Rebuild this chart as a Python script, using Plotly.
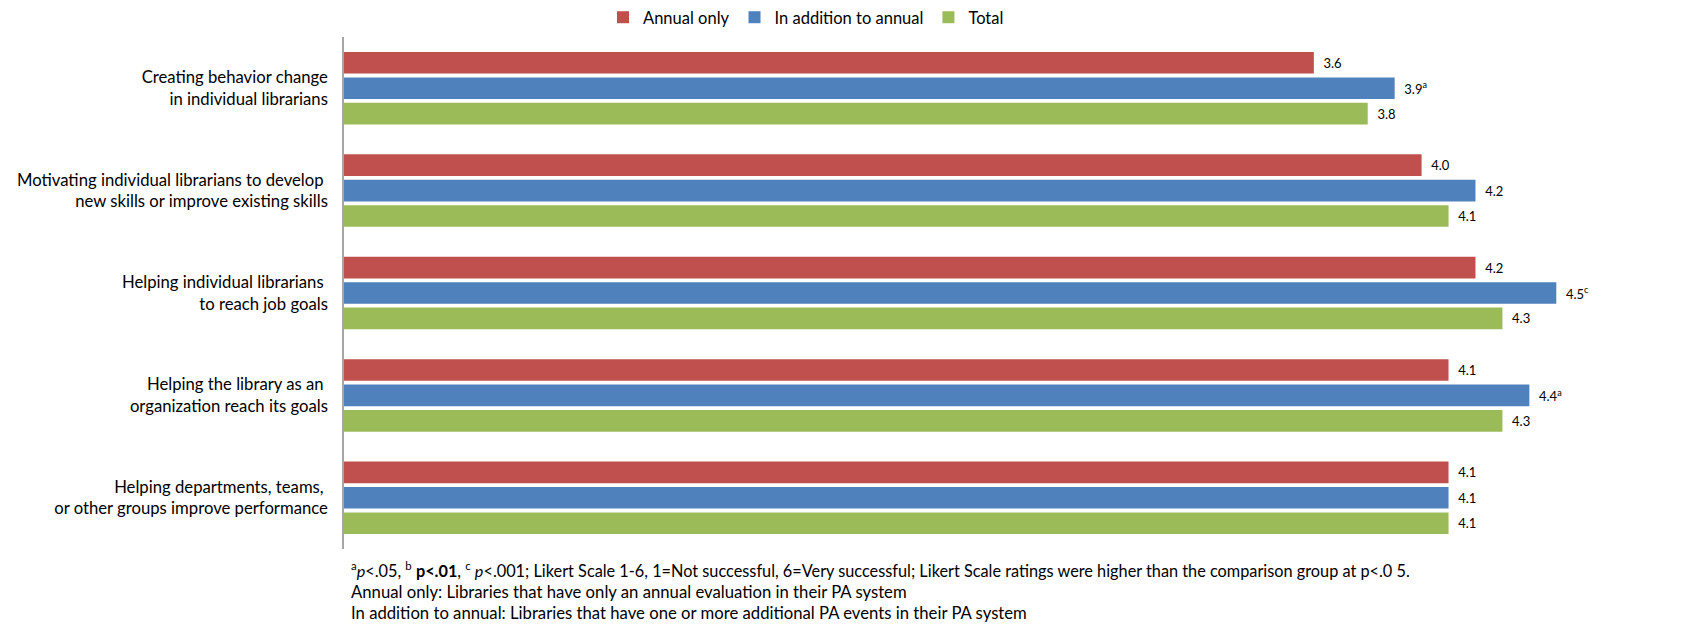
import plotly.graph_objects as go

categories = [
    "Creating behavior change<br>in individual librarians",
    "Motivating individual librarians to develop <br>new skills or improve existing skills",
    "Helping individual librarians <br>to reach job goals",
    "Helping the library as an <br>organization reach its goals",
    "Helping departments, teams, <br>or other groups improve performance",
]
series_names = ["Annual only", "In addition to annual", "Total"]
annual_only = [3.6, 4.0, 4.2, 4.1, 4.1]
in_addition = [3.9, 4.2, 4.5, 4.4, 4.1]
total = [3.8, 4.1, 4.3, 4.3, 4.1]
annual_sup = ["", "", "", "", ""]
in_addition_sup = ["a", "", "c", "a", ""]
total_sup = ["", "", "", "", ""]
colors = ["#C0504D", "#4F81BD", "#9BBB59"]

footnotes = [
    "<sup>a</sup><i>p</i>&lt;.05, <sup>b</sup> <b>p&lt;.01</b>, <sup>c</sup> <i>p</i>&lt;.001; Likert Scale 1-6, 1=Not successful, 6=Very successful; Likert Scale ratings were higher than the comparison group at p&lt;.0 5.",
    "Annual only: Libraries that have only an annual evaluation in their PA system",
    "In addition to annual: Libraries that have one or more additional PA events in their PA system",
]
footnote_sizes = [16.3, 16.7, 16.7]

FONT = "Lato, 'Open Sans', sans-serif"
W, H = 1691, 628
ML, MR, MT, MB = 344, 0, 36, 79
plot_w = W - ML - MR
plot_h = H - MT - MB

fig = go.Figure()
for name, vals, sups, col in zip(series_names, [annual_only, in_addition, total],
                                 [annual_sup, in_addition_sup, total_sup], colors):
    labels = ["\u00a0\u00a0" + f"{v:.1f}" + (f"<sup>{s}</sup>" if s else "")
              for v, s in zip(vals, sups)]
    fig.add_trace(go.Bar(
        y=categories, x=vals, name=name, orientation="h",
        marker=dict(color=col, line=dict(width=0)),
        text=labels, textposition="outside", cliponaxis=False,
        textfont=dict(family=FONT, size=13, color="#000000"),
    ))

fig.update_layout(
    width=W, height=H,
    margin=dict(l=ML, r=MR, t=MT, b=MB),
    paper_bgcolor="white", plot_bgcolor="white",
    barmode="group", bargap=0.255, bargroupgap=0.15,
    font=dict(family=FONT, size=14, color="#000000"),
    showlegend=True,
    legend=dict(orientation="h", x=(603 - ML) / plot_w, xanchor="left",
                y=1 + (MT - 16) / plot_h, yanchor="middle",
                font=dict(family=FONT, size=16.5, color="#000000"),
                traceorder="normal", bgcolor="rgba(0,0,0,0)"),
    xaxis=dict(range=[0, 5], showgrid=False, zeroline=False, showticklabels=False,
               showline=False, ticks=""),
    yaxis=dict(autorange="reversed", showgrid=False, zeroline=False,
               showline=True, linecolor="#A6A6A6", linewidth=1.5,
               ticks="", ticklabelstandoff=11,
               tickfont=dict(family=FONT, size=16.7, color="#000000")),
)

for txt, ypx, fs in zip(footnotes, [570, 592, 613], footnote_sizes):
    fig.add_annotation(
        text=txt, xref="paper", yref="paper",
        x=(349 - ML) / plot_w, y=(H - MB - ypx) / plot_h,
        xanchor="left", yanchor="middle", showarrow=False, align="left",
        font=dict(family=FONT, size=fs, color="#000000"),
    )

fig.write_html(
    "out.html",
    config={"displayModeBar": False},
    post_script="document.body.style.margin='0';document.body.style.overflow='hidden';",
)
